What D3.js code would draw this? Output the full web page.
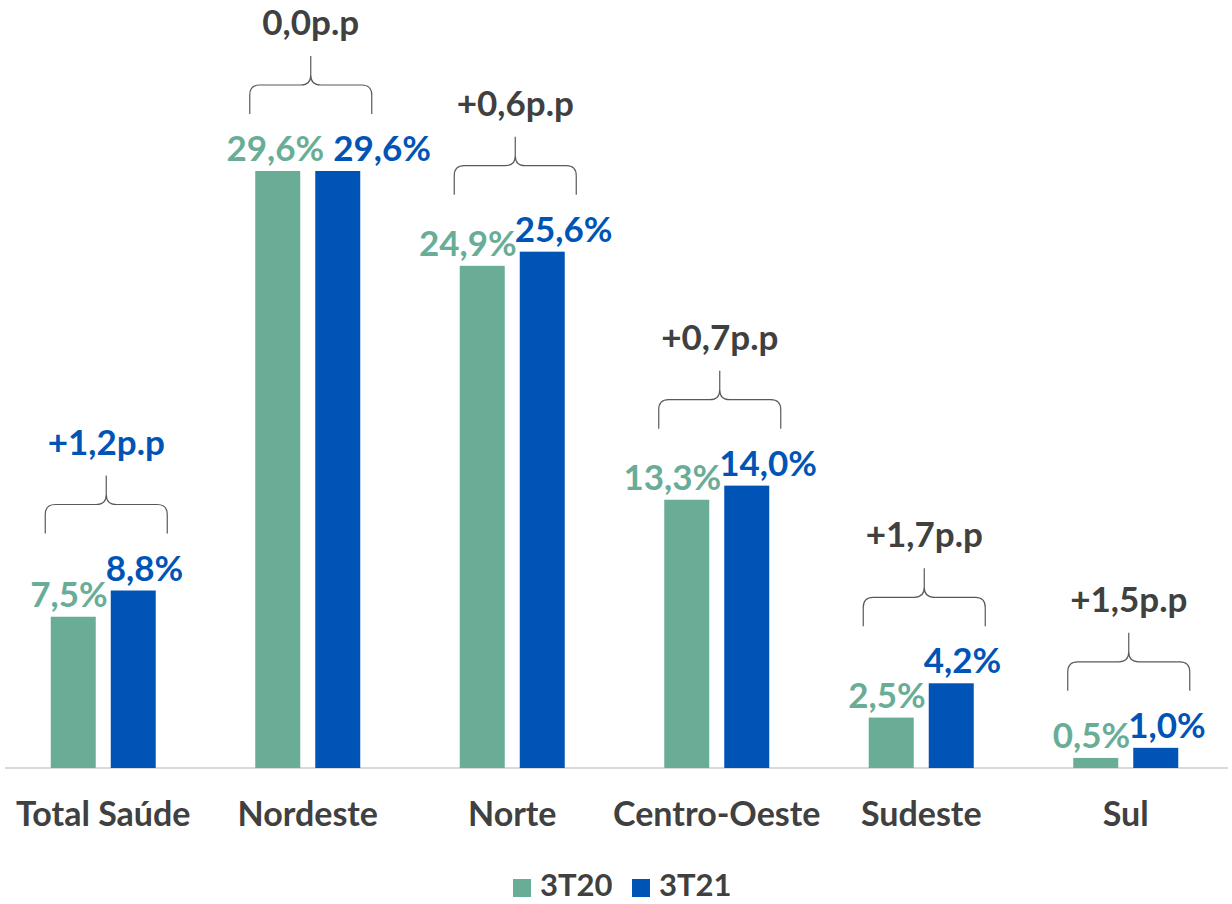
<!DOCTYPE html>
<html>
<head>
<meta charset="utf-8">
<script src="https://cdn.jsdelivr.net/npm/d3@7"></script>
<style>
  body { margin: 0; background: #fff; }
  svg text { font-family: "Lato", "Noto Sans", sans-serif; font-weight: 700; }
</style>
</head>
<body>
<svg id="chart"></svg>
<script>
var categories = ["Total Saúde", "Nordeste", "Norte", "Centro-Oeste", "Sudeste", "Sul"];
var series = ["3T20", "3T21"];
var values3T20 = [7.5, 29.6, 24.9, 13.3, 2.5, 0.5];
var values3T21 = [8.8, 29.6, 25.6, 14.0, 4.2, 1.0];
var deltas = ["+1,2p.p", "0,0p.p", "+0,6p.p", "+0,7p.p", "+1,7p.p", "+1,5p.p"];

var width = 1232, height = 904;
var green = "#69ad97", blue = "#0054b6", dark = "#404040";
var colors = [green, blue];
var baseY = 768;

var data = categories.map(function(c, i) {
    return {cat: c, vals: [values3T20[i], values3T21[i]], delta: deltas[i]};
});

var svg = d3.select("#chart")
    .attr("width", width)
    .attr("height", height);

var x = d3.scaleBand()
    .domain(categories)
    .range([1, 1228]);

var bw = x.bandwidth();
var xs = d3.scaleBand()
    .domain(series)
    .range([bw / 2 - 52.5, bw / 2 + 52.5])
    .paddingInner(0.25);

var y = d3.scaleLinear()
    .domain([0, 29.6])
    .range([baseY, 171]);

function fmt(v) { return v.toFixed(1).replace(".", ",") + "%"; }

// axis line
svg.append("line")
    .attr("x1", 5).attr("x2", 1228)
    .attr("y1", baseY).attr("y2", baseY)
    .attr("stroke", "#d9d9d9")
    .attr("stroke-width", 2);

var groups = svg.selectAll(".grp")
    .data(data)
    .enter().append("g")
    .attr("class", "grp")
    .attr("transform", function(d) { return "translate(" + x(d.cat) + ",0)"; });

groups.selectAll("rect")
    .data(function(d) { return d.vals.map(function(v, j) { return {s: series[j], v: v, j: j}; }); })
    .enter().append("rect")
    .attr("x", function(d) { return xs(d.s); })
    .attr("width", xs.bandwidth())
    .attr("y", function(d) { return y(d.v); })
    .attr("height", function(d) { return baseY - y(d.v); })
    .attr("fill", function(d) { return colors[d.j]; });

// value labels
groups.each(function(d) {
    var g = d3.select(this);
    var gx = xs(series[0]) + xs.bandwidth() + 12;
    var bx = xs(series[1]) - 5;
    // labels at the same height: spread the pair to the right
    if (Math.abs(y(d.vals[0]) - y(d.vals[1])) < 5) {
        gx += 12;
        bx = Math.max(bx, gx + 9);
    }
    g.append("text")
        .attr("x", gx)
        .attr("y", y(d.vals[0]) - 10)
        .attr("text-anchor", "end")
        .attr("font-size", 35)
        .attr("fill", green)
        .text(fmt(d.vals[0]));
    g.append("text")
        .attr("x", bx)
        .attr("y", y(d.vals[1]) - 10)
        .attr("text-anchor", "start")
        .attr("font-size", 35)
        .attr("fill", blue)
        .text(fmt(d.vals[1]));
});

// braces with delta labels
groups.each(function(d, i) {
    var g = d3.select(this);
    var cx = bw / 2 + 3, half = 61;
    var yb = y(d3.max(d.vals)) - 57;
    var yh = yb - 29, yt = yb - 58;
    var r = 10;
    var p = d3.path();
    p.moveTo(cx - half, yb);
    p.lineTo(cx - half, yh + r);
    p.quadraticCurveTo(cx - half, yh, cx - half + r, yh);
    p.lineTo(cx - r, yh);
    p.quadraticCurveTo(cx, yh, cx, yh - r);
    p.lineTo(cx, yt);
    p.moveTo(cx, yh - r);
    p.quadraticCurveTo(cx, yh, cx + r, yh);
    p.lineTo(cx + half - r, yh);
    p.quadraticCurveTo(cx + half, yh, cx + half, yh + r);
    p.lineTo(cx + half, yb);
    g.append("path")
        .attr("d", p.toString())
        .attr("fill", "none")
        .attr("stroke", "#595959")
        .attr("stroke-width", 1.2);
    g.append("text")
        .attr("x", cx)
        .attr("y", yt - 21)
        .attr("text-anchor", "middle")
        .attr("font-size", 35)
        .attr("fill", i === 0 ? blue : dark)
        .text(d.delta);
});

// category axis labels
svg.append("g")
    .selectAll("text")
    .data(categories)
    .enter().append("text")
    .attr("x", function(d) { return x(d) + bw / 2; })
    .attr("y", 826)
    .attr("text-anchor", "middle")
    .attr("font-size", 34)
    .attr("fill", dark)
    .text(function(d) { return d; });

// legend
var legend = svg.append("g").attr("transform", "translate(513,879)");
var lx = [0, 119];
series.forEach(function(s, j) {
    legend.append("rect")
        .attr("x", lx[j]).attr("y", 0)
        .attr("width", 18).attr("height", 18)
        .attr("fill", colors[j]);
    legend.append("text")
        .attr("x", lx[j] + 27)
        .attr("y", 17)
        .attr("font-size", 31)
        .attr("fill", dark)
        .text(s);
});
</script>
</body>
</html>
